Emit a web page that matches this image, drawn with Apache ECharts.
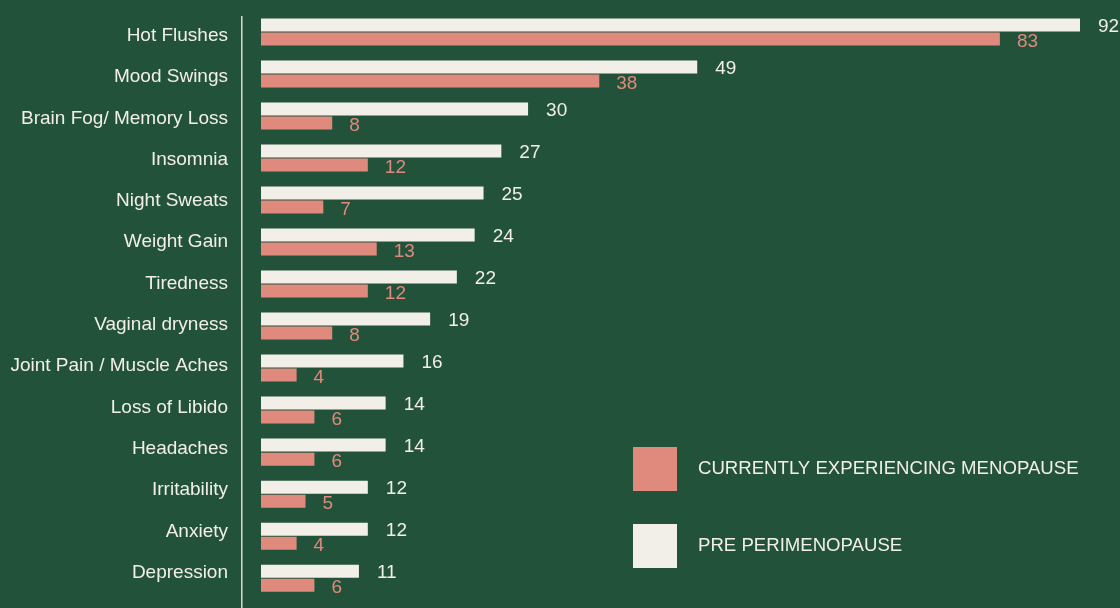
<!DOCTYPE html>
<html><head><meta charset="utf-8">
<script src="https://cdn.jsdelivr.net/npm/echarts@6/dist/echarts.min.js"></script>
<style>html,body{margin:0;padding:0;background:#23523A;}#c{width:1120px;height:608px;}</style>
</head><body><div id="c"></div>
<script>
const categories = ['Hot Flushes','Mood Swings','Brain Fog/ Memory Loss','Insomnia','Night Sweats','Weight Gain','Tiredness','Vaginal dryness','Joint Pain / Muscle Aches','Loss of Libido','Headaches','Irritability','Anxiety','Depression'];
const prePeri = [92,49,30,27,25,24,22,19,16,14,14,12,12,11];
const currentMeno = [83,38,8,12,7,13,12,8,4,6,6,5,4,6];
const seriesNames = ['PRE PERIMENOPAUSE','CURRENTLY EXPERIENCING MENOPAUSE'];

const WHITE = '#F2EFE8', PINK = '#E08A7E', FONT = 'Liberation Sans';
const chart = echarts.init(document.getElementById('c'));
chart.setOption({
  backgroundColor: '#23523A',
  animation: false,
  textStyle: {fontFamily: FONT},
  grid: [
    {left: 261, top: 10.9, width: 819, height: 588.3},
    {left: 241, top: 15.1, width: 10, height: 578.2}
  ],
  xAxis: [
    {gridIndex: 0, type: 'value', min: 0, max: 92, show: false},
    {gridIndex: 1, type: 'value', min: 0, max: 1, show: false}
  ],
  yAxis: [
    {gridIndex: 0, type: 'category', data: categories, inverse: true,
     axisLine: {show: false}, axisTick: {show: false}, axisLabel: {show: false}, splitLine: {show: false}},
    {gridIndex: 1, type: 'category', data: categories, inverse: true,
     axisLine: {show: false}, axisTick: {show: false}, splitLine: {show: false},
     axisLabel: {color: WHITE, fontSize: 19, fontFamily: FONT, margin: 13}}
  ],
  legend: {
    orient: 'vertical', left: 633, top: 447, padding: 0, itemWidth: 44, itemHeight: 44, itemGap: 33,
    icon: 'rect', data: [seriesNames[1], seriesNames[0]],
    textStyle: {color: WHITE, fontSize: 18.6, fontFamily: FONT, padding: [0, 0, 0, 16]}
  },
  graphic: [{type: 'line', shape: {x1: 241.8, y1: 16, x2: 241.8, y2: 608}, style: {stroke: WHITE, lineWidth: 1.3}}],
  series: [
    {name: seriesNames[0], type: 'bar', xAxisIndex: 0, yAxisIndex: 0, data: prePeri,
     barWidth: 13, barGap: '7.7%', itemStyle: {color: WHITE},
     label: {show: true, position: 'right', distance: 18, color: WHITE, fontSize: 19, fontFamily: FONT, offset: [0, 1.5]}},
    {name: seriesNames[1], type: 'bar', xAxisIndex: 0, yAxisIndex: 0, data: currentMeno,
     barWidth: 13, barGap: '7.7%', itemStyle: {color: PINK},
     label: {show: true, position: 'right', distance: 17, color: PINK, fontSize: 19, fontFamily: FONT, offset: [0, 2.5]}}
  ]
});
</script></body></html>
